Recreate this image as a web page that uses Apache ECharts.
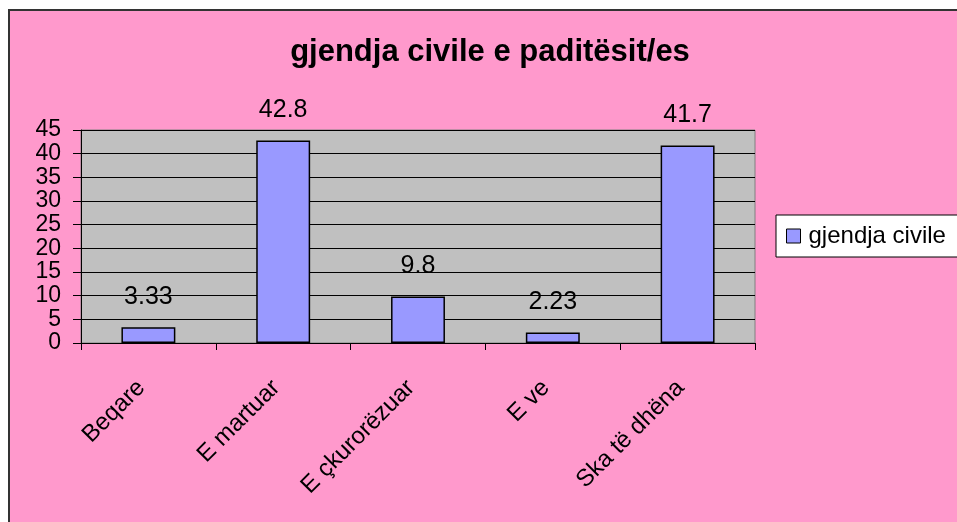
<!DOCTYPE html>
<html>
<head>
<meta charset="utf-8">
<script src="https://cdn.jsdelivr.net/npm/echarts@6/dist/echarts.min.js"></script>
<style>
  html, body { margin: 0; padding: 0; background: #fff; }
  #chart {
    position: absolute;
    left: 8px;
    top: 9px;
    width: 949px;
    height: 513px;
    border-left: 2px solid #333;
    border-top: 2px solid #333;
    background: #FF99CC;
  }
</style>
</head>
<body>
<div id="chart"></div>
<script>
const categories = ['Beqare', 'E martuar', 'E çkurorëzuar', 'E ve', 'Ska të dhëna']
const values = [3.33, 42.8, 9.8, 2.23, 41.7]
const seriesName = 'gjendja civile'
const titleText = 'gjendja civile e paditësit/es'

const font = '"Liberation Sans", Arial, sans-serif'
const chart = echarts.init(document.getElementById('chart'))

chart.setOption({
  textStyle: { fontFamily: font },
  title: {
    text: titleText,
    left: 475,
    textAlign: 'center',
    top: 21,
    textStyle: {
      fontSize: 31,
      fontWeight: 'bold',
      color: '#000',
      fontFamily: font,
    },
  },
  legend: {
    left: 766,
    top: 204,
    orient: 'vertical',
    backgroundColor: '#fff',
    borderColor: '#000',
    borderWidth: 1,
    padding: [9, 30, 9, 10],
    itemWidth: 14,
    itemHeight: 14,
    icon: 'rect',
    itemStyle: { borderColor: '#000', borderWidth: 1 },
    textStyle: { fontSize: 24, color: '#000', fontFamily: font, padding: [0, 0, 0, 3] },
    data: [seriesName],
  },
  grid: {
    left: 71,
    top: 119,
    width: 674,
    height: 213,
    show: true,
    backgroundColor: '#C0C0C0',
    borderColor: '#808080',
    borderWidth: 1,
  },
  xAxis: {
    type: 'category',
    data: categories,
    boundaryGap: true,
    axisLine: { show: true, lineStyle: { color: '#000', width: 1 } },
    axisTick: { show: true, length: 7, lineStyle: { color: '#000' } },
    axisLabel: {
      interval: 0,
      rotate: 45,
      margin: 34,
      padding: [0, 10, 0, 0],
      fontSize: 24,
      color: '#000',
      fontFamily: font,
    },
  },
  yAxis: {
    type: 'value',
    min: 0,
    max: 45,
    interval: 5,
    axisLine: { show: true, lineStyle: { color: '#000', width: 1 } },
    axisTick: { show: true, length: 8, lineStyle: { color: '#000' } },
    axisLabel: { fontSize: 23, color: '#000', margin: 20, fontFamily: font },
    splitLine: { show: true, lineStyle: { color: '#000', width: 1 } },
  },
  series: [
    {
      name: seriesName,
      type: 'bar',
      data: values,
      barWidth: '40%',
      itemStyle: {
        color: '#9999FF',
        borderColor: '#000',
        borderWidth: 1.5,
      },
      label: {
        show: true,
        position: 'top',
        distance: 18,
        fontSize: 25,
        color: '#000',
        fontFamily: font,
      },
    },
  ],
})
</script>
</body>
</html>
